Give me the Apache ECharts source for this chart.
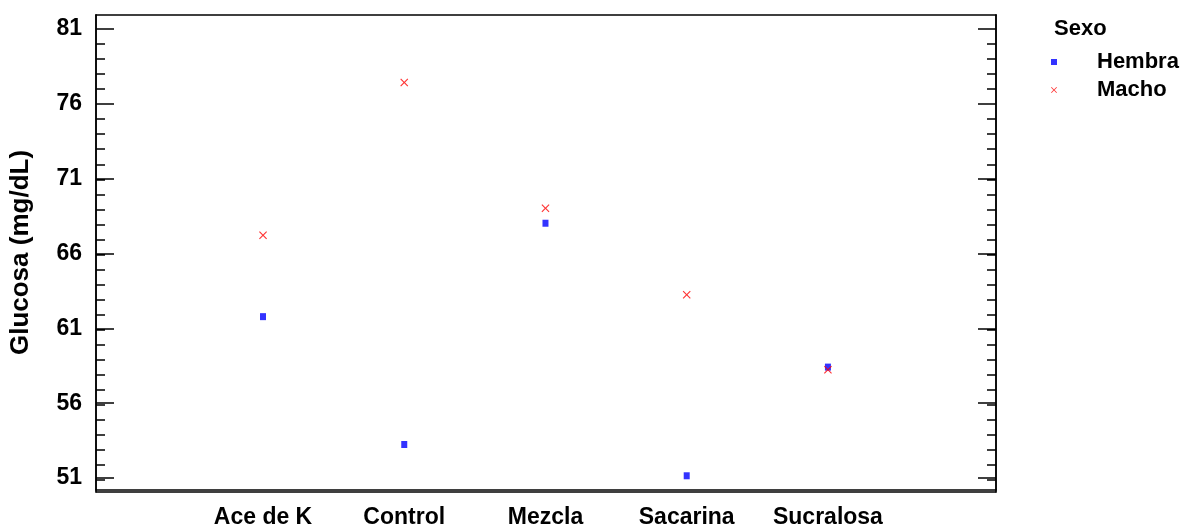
<!DOCTYPE html>
<html>
<head>
<meta charset="utf-8">
<script src="https://cdn.jsdelivr.net/npm/echarts@6/dist/echarts.min.js"></script>
<style>
  html, body { margin: 0; padding: 0; background: #fff; }
  #chart { width: 1182px; height: 529px; }
</style>
</head>
<body>
<div id="chart"></div>
<script>
const categories = ['Ace de K', 'Control', 'Mezcla', 'Sacarina', 'Sucralosa']
const categoryPos = [1, 2, 3, 4, 5]
const hembra = [61.78, 53.24, 68.02, 51.15, 58.41]
const macho = [67.22, 77.42, 69.02, 63.24, 58.23]
const yMajorTicks = [51, 56, 61, 66, 71, 76, 81]
const yMinorTicks = [51, 52, 53, 54, 55, 56, 57, 58, 59, 60, 61, 62, 63, 64, 65, 66,
  67, 68, 69, 70, 71, 72, 73, 74, 75, 76, 77, 78, 79, 80, 81]

const font = "'Liberation Sans', Arial, sans-serif"
const crossPath = 'path://M0,1L1,0L5,4L9,0L10,1L6,5L10,9L9,10L5,6L1,10L0,9L4,5Z'
const X_MIN = -0.1826
const X_MAX = 6.19
const Y_MIN = 50.2
const Y_MAX = 81.93
const plotBox = { left: 96, right: 186, top: 15, bottom: 37, containLabel: false }
const frameLine = { show: true, onZero: false, lineStyle: { color: '#000', width: 1.5 } }

// major ticks live on grid 0, minor ticks on an identical grid 1
function yAxisDef(gridIndex, position, ticks, length, withLabel) {
  return {
    type: 'value',
    gridIndex: gridIndex,
    position: position,
    offset: 0,
    min: Y_MIN,
    max: Y_MAX,
    name: withLabel ? 'Glucosa (mg/dL)' : '',
    nameLocation: 'middle',
    nameGap: 62,
    nameTextStyle: { fontFamily: font, fontWeight: 'bold', fontSize: 26, color: '#000' },
    axisLine: frameLine,
    axisTick: { show: true, inside: true, length: length, customValues: ticks, lineStyle: { color: '#000', width: 1.5 } },
    axisLabel: {
      show: withLabel,
      customValues: yMajorTicks,
      margin: 14,
      fontFamily: font,
      fontWeight: 'bold',
      fontSize: 23,
      color: '#000',
    },
    splitLine: { show: false },
  }
}

function frameX(gridIndex, position) {
  return {
    type: 'value',
    gridIndex: gridIndex,
    min: X_MIN,
    max: X_MAX,
    position: position,
    axisLine: frameLine,
    axisTick: { show: false },
    axisLabel: { show: false },
    splitLine: { show: false },
  }
}

const chart = echarts.init(document.getElementById('chart'))
chart.setOption({
  animation: false,
  backgroundColor: '#fff',
  title: {
    text: 'Sexo',
    left: 1054,
    top: 18,
    padding: 0,
    textStyle: { fontFamily: font, fontWeight: 'bold', fontSize: 22, color: '#000' },
  },
  legend: {
    orient: 'vertical',
    left: 1051,
    top: 51,
    padding: 0,
    itemWidth: 6,
    itemHeight: 6,
    itemGap: 6,
    data: [
      { name: 'Hembra', icon: 'rect' },
      { name: 'Macho', icon: crossPath },
    ],
    textStyle: {
      fontFamily: font,
      fontWeight: 'bold',
      fontSize: 22,
      lineHeight: 22,
      color: '#000',
      padding: [0, 0, 0, 35],
    },
  },
  grid: [plotBox, plotBox],
  xAxis: [
    {
      type: 'value',
      gridIndex: 0,
      min: X_MIN,
      max: X_MAX,
      position: 'bottom',
      axisLine: frameLine,
      axisTick: { show: false },
      axisLabel: {
        customValues: categoryPos,
        formatter: (v) => categories[categoryPos.indexOf(v)] || '',
        margin: 16,
        fontFamily: font,
        fontWeight: 'bold',
        fontSize: 23,
        color: '#000',
      },
      splitLine: { show: false },
    },
    frameX(0, 'top'),
    frameX(1, 'bottom'),
  ],
  yAxis: [
    yAxisDef(0, 'left', yMajorTicks, 18, true),
    yAxisDef(0, 'right', yMajorTicks, 18, false),
    yAxisDef(1, 'left', yMinorTicks, 9, false),
    yAxisDef(1, 'right', yMinorTicks, 9, false),
  ],
  series: [
    {
      name: 'Hembra',
      type: 'scatter',
      xAxisIndex: 0,
      yAxisIndex: 0,
      symbol: 'rect',
      symbolSize: [6, 7],
      itemStyle: { color: '#0000ff' },
      data: categoryPos.map((x, i) => [x, hembra[i]]),
    },
    {
      name: 'Macho',
      type: 'scatter',
      xAxisIndex: 0,
      yAxisIndex: 0,
      symbol: crossPath,
      symbolSize: 8,
      itemStyle: { color: '#ff0000' },
      data: categoryPos.map((x, i) => [x, macho[i]]),
    },
  ],
})
</script>
</body>
</html>
